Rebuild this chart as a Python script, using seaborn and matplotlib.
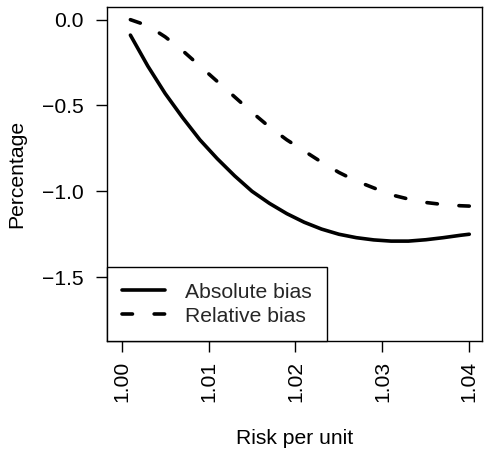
import numpy as np
import pandas as pd
import matplotlib
matplotlib.use("Agg")
import matplotlib.pyplot as plt
import seaborn as sns

# ====== DATA ======
risk = [1.001, 1.003, 1.005, 1.007, 1.009, 1.011, 1.013, 1.015, 1.017, 1.019, 1.021,
        1.023, 1.025, 1.027, 1.029, 1.031, 1.033, 1.035, 1.037, 1.039, 1.040]
absolute_bias = [-0.09, -0.27, -0.43, -0.57, -0.70, -0.81, -0.91, -1.00, -1.07, -1.13, -1.18,
                 -1.22, -1.25, -1.27, -1.283, -1.29, -1.29, -1.282, -1.27, -1.256, -1.25]
relative_bias = [0.00, -0.035, -0.10, -0.18, -0.27, -0.36, -0.45, -0.54, -0.625, -0.70, -0.765,
                 -0.83, -0.89, -0.94, -0.98, -1.02, -1.045, -1.065, -1.077, -1.084, -1.086]
x_ticks = [1.00, 1.01, 1.02, 1.03, 1.04]
y_ticks = [0.0, -0.5, -1.0, -1.5]

df_abs = pd.DataFrame({"risk": risk, "bias": absolute_bias})
df_rel = pd.DataFrame({"risk": risk, "bias": relative_bias})

# ====== STYLE ======
sns.set_theme(style="white")
plt.rcParams["font.family"] = ["Liberation Sans", "DejaVu Sans"]
FS = 15.2
LW = 2.6
DASH = (0, (2.9, 6.0))

fig = plt.figure(figsize=(4.87, 4.57), dpi=100)
ax = fig.add_axes([0.2203, 0.2538, 0.7688, 0.7302])

sns.lineplot(data=df_abs, x="risk", y="bias", ax=ax, color="black", lw=LW,
             label="Absolute bias")
sns.lineplot(data=df_rel, x="risk", y="bias", ax=ax, color="black", lw=LW,
             label="Relative bias")
ax.lines[1].set_linestyle(DASH)
for ln in ax.lines:
    ln.set_solid_capstyle("round")
    ln.set_dash_capstyle("round")

ax.set_xlim(0.99834, 1.04143)
ax.set_ylim(-1.872, 0.072)
ax.set_xticks(x_ticks)
ax.set_xticklabels([f"{t:.2f}" for t in x_ticks], rotation=90)
ax.set_yticks(y_ticks)
ax.set_yticklabels([f"{t:.1f}".replace("-", "\u2212") for t in y_ticks])

ax.tick_params(axis="both", direction="out", length=8, width=1, color="black",
               labelsize=FS, labelcolor="black", bottom=True, left=True)
ax.tick_params(axis="y", pad=9)
ax.tick_params(axis="x", pad=6.5)
for s in ax.spines.values():
    s.set_color("black")
    s.set_linewidth(1)

ax.set_xlabel("Risk per unit", fontsize=FS, color="black", labelpad=19)
ax.set_ylabel("Percentage", fontsize=FS, color="black", labelpad=11)

leg = ax.legend(loc="lower left", borderaxespad=0, fontsize=FS, frameon=True,
                fancybox=False, edgecolor="black", framealpha=1,
                handlelength=2.0, handletextpad=0.95, labelspacing=0.25,
                borderpad=0.72)
leg.get_frame().set_linewidth(1)
for h in leg.get_lines():
    h.set_linewidth(LW)
    h.set_dash_capstyle("round")
    h.set_solid_capstyle("round")

fig.savefig("out.png", dpi=100)
